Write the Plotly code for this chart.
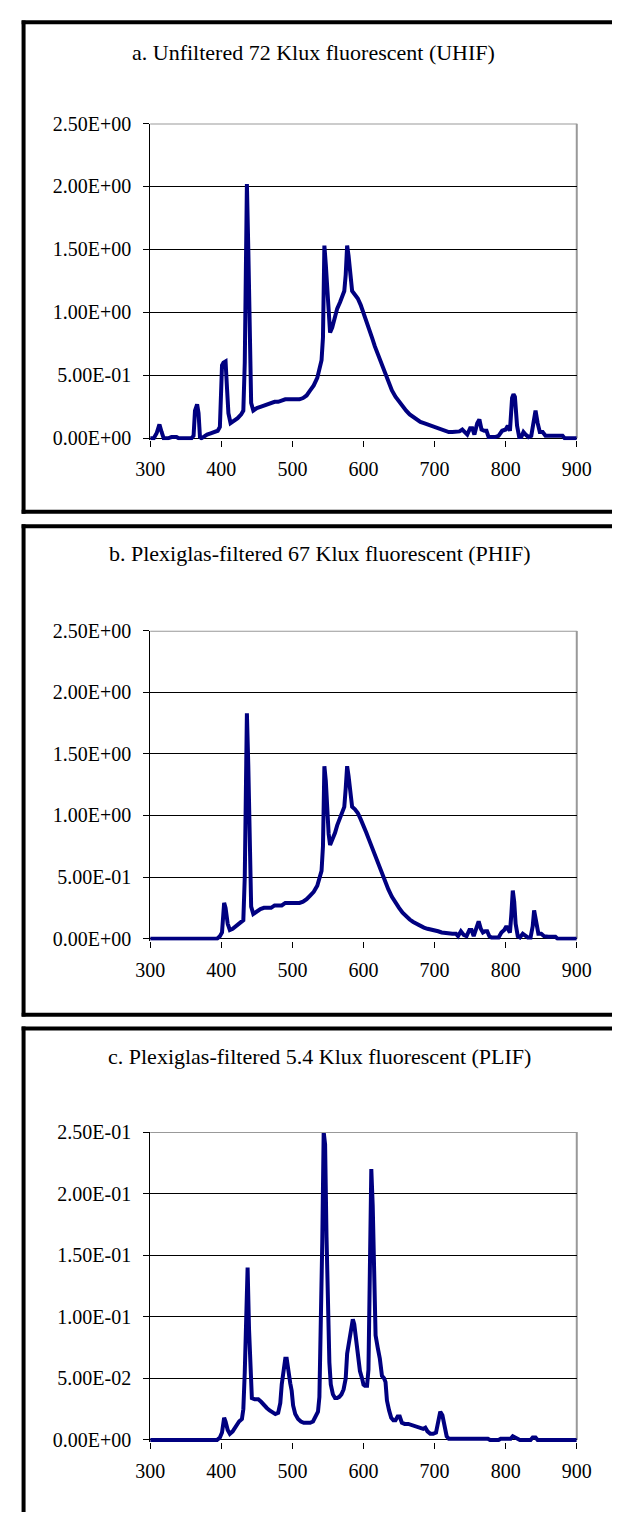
import plotly.graph_objects as go

# ---------------- data ----------------
titles = [
    "a. Unfiltered 72 Klux fluorescent (UHIF)",
    "b. Plexiglas-filtered 67 Klux fluorescent (PHIF)",
    "c. Plexiglas-filtered 5.4 Klux fluorescent (PLIF)",
]

x_ticks = [300, 400, 500, 600, 700, 800, 900]
x_ticktext = ["300", "400", "500", "600", "700", "800", "900"]

y_ticks_ab = [0, 0.5, 1.0, 1.5, 2.0, 2.5]
y_ticktext_ab = ["0.00E+00", "5.00E-01", "1.00E+00", "1.50E+00", "2.00E+00", "2.50E+00"]
y_ticks_c = [0, 0.05, 0.10, 0.15, 0.20, 0.25]
y_ticktext_c = ["0.00E+00", "5.00E-02", "1.00E-01", "1.50E-01", "2.00E-01", "2.50E-01"]

wl_a = [300, 305, 309, 313, 316, 319, 325, 330, 337, 340, 358, 361, 363, 366, 368, 370,
        372, 376, 380, 385, 390, 395, 398, 401, 403, 406, 408, 410, 413, 418, 423, 428,
        431, 433, 435, 436, 438, 440, 442, 445, 450, 455, 460, 465, 470, 475, 480, 485,
        490, 495, 500, 505, 510, 515, 520, 525, 530, 535, 539, 541, 543, 545, 547, 549,
        551, 553, 556, 560, 563, 567, 570, 573, 575, 577, 579, 581, 584, 588, 592, 596,
        600, 604, 608, 612, 616, 620, 625, 630, 635, 640, 645, 650, 655, 660, 665, 670,
        675, 680, 685, 690, 695, 700, 705, 710, 715, 720, 725, 730, 735, 739, 743, 746,
        750, 753, 756, 760, 763, 766, 770, 773, 776, 780, 785, 790, 795, 800, 803, 806,
        809, 811, 813, 816, 819, 822, 825, 828, 832, 836, 839, 842, 845, 848, 852, 856,
        860, 870, 880, 883, 890, 900]
val_a = [0, 0, 0.04, 0.11, 0.05, 0, 0, 0.01, 0.01, 0, 0, 0.02, 0.22, 0.27, 0.20, 0.01,
         0, 0.02, 0.03, 0.04, 0.05, 0.06, 0.09, 0.58, 0.60, 0.61, 0.40, 0.20, 0.12, 0.14, 0.16, 0.19,
         0.22, 0.60, 1.50, 2.02, 1.50, 0.75, 0.28, 0.22, 0.24, 0.25, 0.26, 0.27, 0.28, 0.29, 0.29, 0.30,
         0.31, 0.31, 0.31, 0.31, 0.31, 0.32, 0.34, 0.38, 0.42, 0.48, 0.58, 0.62, 0.80, 1.53, 1.38, 1.15,
         0.95, 0.84, 0.88, 0.97, 1.03, 1.08, 1.12, 1.17, 1.30, 1.53, 1.45, 1.33, 1.17, 1.14, 1.11, 1.06,
         1.00, 0.94, 0.87, 0.80, 0.73, 0.67, 0.59, 0.51, 0.44, 0.38, 0.33, 0.29, 0.25, 0.22, 0.19, 0.17,
         0.15, 0.13, 0.12, 0.11, 0.10, 0.09, 0.08, 0.07, 0.06, 0.05, 0.05, 0.05, 0.055, 0.07, 0.04, 0.03,
         0.08, 0.08, 0.03, 0.12, 0.15, 0.07, 0.06, 0.06, 0.01, 0.01, 0.01, 0.02, 0.06, 0.07, 0.10, 0.06,
         0.32, 0.35, 0.33, 0.10, 0.01, 0.01, 0.05, 0.03, 0.01, 0.02, 0.12, 0.22, 0.12, 0.05, 0.05, 0.02,
         0.02, 0.02, 0.02, 0, 0, 0]

wl_b = [300, 350, 394, 398, 401, 404, 406, 409, 412, 416, 420, 425, 429, 431, 433, 435,
        436, 438, 440, 442, 445, 450, 455, 460, 465, 470, 475, 480, 485, 490, 495, 500,
        505, 510, 515, 520, 525, 530, 535, 539, 541, 543, 545, 547, 549, 551, 553, 556,
        560, 563, 567, 570, 573, 575, 577, 579, 581, 584, 588, 592, 596, 600, 604, 608,
        612, 616, 620, 625, 630, 635, 640, 645, 650, 655, 660, 665, 670, 675, 680, 685,
        690, 695, 700, 705, 710, 715, 720, 725, 730, 733, 737, 741, 745, 749, 752, 755,
        759, 762, 765, 768, 771, 774, 777, 780, 785, 790, 794, 798, 801, 804, 806, 808,
        810, 812, 814, 817, 820, 824, 827, 831, 835, 838, 840, 843, 846, 850, 854, 860,
        870, 873, 900]
val_b = [0, 0, 0, 0.02, 0.05, 0.29, 0.25, 0.12, 0.07, 0.08, 0.10, 0.12, 0.14, 0.15, 0.50, 1.35,
         1.83, 1.40, 0.60, 0.26, 0.20, 0.22, 0.24, 0.25, 0.25, 0.25, 0.27, 0.27, 0.27, 0.29, 0.29, 0.29,
         0.29, 0.29, 0.30, 0.32, 0.35, 0.38, 0.43, 0.51, 0.55, 0.75, 1.40, 1.28, 1.05, 0.85, 0.76, 0.80,
         0.86, 0.92, 0.98, 1.02, 1.07, 1.22, 1.40, 1.32, 1.20, 1.07, 1.05, 1.02, 0.97, 0.92, 0.86, 0.80,
         0.74, 0.68, 0.62, 0.54, 0.47, 0.40, 0.34, 0.29, 0.25, 0.21, 0.18, 0.155, 0.135, 0.12, 0.10, 0.09,
         0.08, 0.075, 0.07, 0.06, 0.05, 0.045, 0.04, 0.04, 0.04, 0.02, 0.06, 0.03, 0.02, 0.07, 0.07, 0.02,
         0.09, 0.14, 0.08, 0.05, 0.06, 0.06, 0.02, 0.01, 0.01, 0.01, 0.05, 0.07, 0.10, 0.07, 0.05, 0.20,
         0.39, 0.30, 0.12, 0.02, 0.01, 0.04, 0.03, 0.01, 0.01, 0.10, 0.23, 0.12, 0.04, 0.04, 0.02, 0.015,
         0.015, 0, 0]

wl_c = [300, 350, 394, 398, 401, 404, 406, 409, 412, 416, 420, 425, 429, 431, 433, 435,
        437, 439, 441, 443, 447, 452, 456, 460, 464, 468, 472, 476, 480, 483, 485, 488,
        490, 492, 494, 497, 499, 501, 504, 508, 512, 516, 520, 525, 529, 533, 536, 538,
        540, 542, 544, 546, 548, 550, 552, 554, 557, 560, 563, 566, 569, 572, 575, 577,
        580, 583, 585, 587, 589, 591, 593, 595, 598, 600, 602, 605, 607, 609, 611, 613,
        615, 617, 620, 623, 626, 629, 631, 633, 636, 639, 642, 645, 648, 651, 654, 658,
        663, 668, 672, 676, 680, 684, 687, 690, 694, 698, 702, 705, 708, 711, 714, 717,
        720, 730, 740, 750, 760, 770, 775, 778, 790, 793, 800, 807, 810, 813, 816, 820,
        835, 838, 842, 845, 900]
val_c = [0, 0, 0, 0.002, 0.006, 0.018, 0.015, 0.008, 0.005, 0.007, 0.011, 0.015, 0.017, 0.025, 0.055, 0.105,
         0.14, 0.09, 0.05, 0.034, 0.033, 0.033, 0.031, 0.028, 0.026, 0.024, 0.022, 0.021, 0.022, 0.03, 0.045, 0.06,
         0.066, 0.066, 0.055, 0.046, 0.04, 0.028, 0.021, 0.017, 0.015, 0.014, 0.014, 0.014, 0.015, 0.019, 0.023, 0.035,
         0.085, 0.16, 0.25, 0.24, 0.165, 0.09, 0.063, 0.045, 0.037, 0.034, 0.034, 0.035, 0.037, 0.041, 0.05, 0.07,
         0.08, 0.09, 0.098, 0.094, 0.085, 0.077, 0.063, 0.056, 0.05, 0.045, 0.044, 0.044, 0.057, 0.14, 0.22, 0.19,
         0.12, 0.085, 0.075, 0.066, 0.052, 0.05, 0.047, 0.032, 0.024, 0.018, 0.016, 0.016, 0.019, 0.019, 0.014, 0.013,
         0.013, 0.012, 0.011, 0.01, 0.01, 0.009, 0.01, 0.007, 0.005, 0.005, 0.006, 0.016, 0.023, 0.02, 0.01, 0.003,
         0.001, 0.001, 0.001, 0.001, 0.001, 0.001, 0.001, 0, 0, 0.001, 0.001, 0.001, 0.003, 0.002, 0.001, 0,
         0, 0.002, 0.002, 0, 0]

# ---------------- layout geometry (pixels) ----------------
W, H = 627, 1521
FONT = "Liberation Serif, Times New Roman, serif"
LINE_COLOR = "#000080"

plot_left, plot_right = 142, 590
box_left = 9
# (top px, zero px, ymax, title centre x, title centre y, box top, box bottom or None)
panels = [
    (114, 433, 2.5, 313, 42, 11.5, 507.5),
    (628, 940, 2.5, 320, 550, 522, 1017),
    (1136, 1448, 0.25, 320, 1059, 1031, None),
]
series = [(wl_a, val_a), (wl_b, val_b), (wl_c, val_c)]
yticks = [(y_ticks_ab, y_ticktext_ab), (y_ticks_ab, y_ticktext_ab), (y_ticks_c, y_ticktext_c)]

EXT = 2.0  # px of extra room below zero so the trace is not clipped


def px_x(p):
    return p / W


def px_y(p):
    return 1 - p / H


def hline(y, x0, x1, color="black", width=4):
    return dict(type="line", xref="paper", yref="paper", x0=px_x(x0), x1=px_x(x1),
                y0=px_y(y), y1=px_y(y), line=dict(color=color, width=width), layer="below")


def vline(x, y0, y1, color="black", width=4):
    return dict(type="line", xref="paper", yref="paper", x0=px_x(x), x1=px_x(x),
                y0=px_y(y0), y1=px_y(y1), line=dict(color=color, width=width), layer="below")


fig = go.Figure()
shapes = []
annotations = []

for i, ((top, zero, ymax, tx, ty, btop, bbot), (wl, vals), (tv, tt)) in enumerate(
        zip(panels, series, yticks)):
    n = "" if i == 0 else str(i + 1)
    xa, ya = "x" + n, "y" + n
    h_px = zero - top
    ylo = -EXT * ymax / h_px
    fig.add_trace(go.Scatter(x=wl, y=vals, mode="lines",
                             line=dict(color=LINE_COLOR, width=4),
                             xaxis=xa, yaxis=ya, showlegend=False, hoverinfo="x+y"))
    fig.layout["xaxis" + n] = dict(
        domain=[px_x(plot_left), px_x(plot_right)], anchor=ya,
        range=[300, 900], tickvals=x_ticks, ticktext=x_ticktext,
        showline=False, showgrid=False, zeroline=False,
        ticks="outside", ticklen=6, tickwidth=1, tickcolor="black",
        ticklabelstandoff=5,
        tickfont=dict(family=FONT, size=20, color="black"),
    )
    fig.layout["yaxis" + n] = dict(
        domain=[px_y(zero + EXT), px_y(top)], anchor=xa,
        range=[ylo, ymax], tickvals=tv, ticktext=tt,
        showline=True, linecolor="black", linewidth=1,
        showgrid=True, gridcolor="black", gridwidth=1,
        zeroline=True, zerolinecolor="black", zerolinewidth=1,
        ticks="outside", ticklen=6, tickwidth=1, tickcolor="black",
        ticklabelstandoff=8,
        tickfont=dict(family=FONT, size=20, color="black"),
    )
    # gray top and right frame of plot area
    shapes.append(dict(type="line", xref=xa + " domain", yref=ya, x0=0, x1=1, y0=ymax, y1=ymax,
                       line=dict(color="#999999", width=2), layer="above"))
    shapes.append(dict(type="line", xref=xa + " domain", yref=ya, x0=1, x1=1, y0=0, y1=ymax,
                       line=dict(color="#999999", width=2), layer="below"))
    # black outer frame (its right side, and panel c's bottom, fall outside the page)
    bottom = bbot if bbot is not None else H
    shapes.append(hline(btop, box_left - 2, W))
    shapes.append(vline(box_left, btop - 2, bottom + (2 if bbot is not None else 0)))
    if bbot is not None:
        shapes.append(hline(bbot, box_left - 2, W))
    annotations.append(dict(text=titles[i], xref="paper", yref="paper",
                            x=px_x(tx), y=px_y(ty), xanchor="center", yanchor="middle",
                            showarrow=False, font=dict(family=FONT, size=22, color="black")))

fig.update_layout(
    width=W, height=H,
    margin=dict(l=0, r=0, t=0, b=0),
    paper_bgcolor="white", plot_bgcolor="white",
    shapes=shapes, annotations=annotations,
    showlegend=False,
)

fig.write_html(
    "out.html",
    config={"displayModeBar": False},
    post_script="document.body.style.margin='0';document.documentElement.style.overflow='hidden';",
)
